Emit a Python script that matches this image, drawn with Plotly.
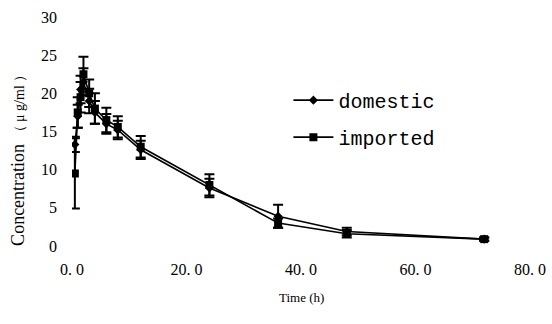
import plotly.graph_objects as go

time_h = [0.5, 1, 1.5, 2, 3, 4, 6, 8, 12, 24, 36, 48, 72]
domestic = [13.3, 17.0, 20.5, 21.5, 19.0, 17.5, 16.0, 15.2, 12.6, 7.6, 3.9, 1.9, 0.9]
domestic_err = [1.0, 1.5, 1.8, 1.8, 1.6, 1.5, 1.3, 1.2, 1.2, 1.2, 1.5, 0.5, 0.2]
imported = [9.5, 17.5, 19.5, 22.5, 20.0, 18.0, 16.5, 15.6, 13.0, 8.0, 3.0, 1.6, 0.9]
imported_err = [4.6, 2.0, 2.0, 2.3, 1.8, 2.0, 1.6, 1.4, 1.4, 1.4, 0.6, 0.5, 0.2]

x_ticks = [0, 20, 40, 60, 80]
x_ticktext = ["0. 0", "20. 0", "40. 0", "60. 0", "80. 0"]
y_ticks = [0, 5, 10, 15, 20, 25, 30]

fig = go.Figure()
fig.add_trace(go.Scatter(
    x=time_h, y=domestic, name="domestic", mode="lines+markers",
    line=dict(color="black", width=1.6),
    marker=dict(symbol="diamond", size=7, color="black"),
    error_y=dict(type="data", array=domestic_err, color="black", thickness=2, width=5),
    legendgroup="d",
))
fig.add_trace(go.Scatter(
    x=time_h, y=imported, name="imported", mode="lines+markers",
    line=dict(color="black", width=1.6),
    marker=dict(symbol="square", size=8, color="black"),
    error_y=dict(type="data", array=imported_err, color="black", thickness=2, width=5),
    legendgroup="i",
))

fig.update_layout(
    width=552, height=324,
    margin=dict(l=72, r=22, t=17, b=78),
    paper_bgcolor="white", plot_bgcolor="white",
    font=dict(family="Liberation Serif", color="black", size=14),
    showlegend=True,
    legend=dict(x=0.4725, y=0.722, xanchor="left", yanchor="top",
                font=dict(family="Liberation Mono", size=20, color="black"),
                itemwidth=40, tracegroupgap=8, bgcolor="rgba(0,0,0,0)"),
    xaxis=dict(range=[0, 80], tickvals=x_ticks, ticktext=x_ticktext,
               showgrid=False, zeroline=False, showline=False, ticks="",
               automargin=False, ticklabelstandoff=12, ticklabeloverflow="allow",
               tickfont=dict(size=16)),
    yaxis=dict(range=[0, 30], tickvals=y_ticks,
               showgrid=False, zeroline=False, showline=False, ticks="",
               automargin=False, ticklabelstandoff=14, ticklabeloverflow="allow",
               tickfont=dict(size=16)),
    annotations=[
        dict(text="Time (h)", xref="paper", yref="paper", x=0.5, y=-0.227,
             xanchor="center", yanchor="middle", showarrow=False,
             font=dict(size=13)),
        dict(text="Concentration <span style='font-size:14px'>（ μ g/ml ）</span>",
             xref="paper", yref="paper",
             x=-0.118, y=0.389, xanchor="center", yanchor="middle",
             textangle=-90, showarrow=False, font=dict(size=18)),
    ],
)

fig.write_html("out.html", config={"displayModeBar": False},
               post_script="document.body.style.margin='0';document.body.style.overflow='hidden';")
